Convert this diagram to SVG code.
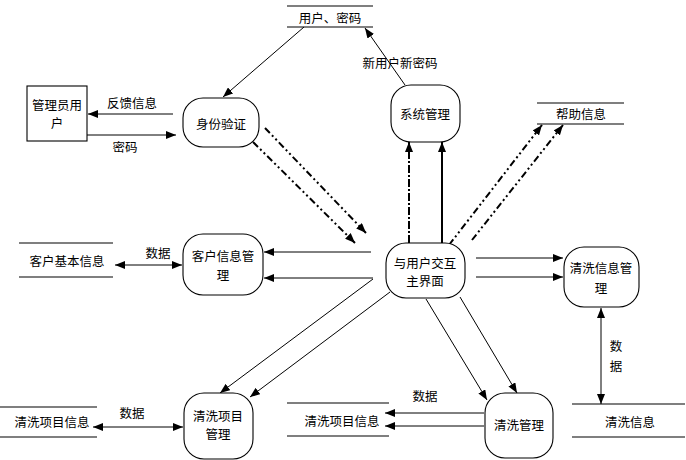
<svg xmlns="http://www.w3.org/2000/svg" width="686" height="460" viewBox="0 0 686 460">
<style>
text{font-family:"Noto Sans CJK SC","Liberation Sans",sans-serif;font-size:12.5px;fill:#000;text-anchor:middle;dominant-baseline:central}
.n{fill:#fff;stroke:#000;stroke-width:1.1}
.s{stroke:#000;stroke-width:1.1;fill:none}
.c{stroke:#000;stroke-width:1;fill:none;marker-end:url(#a)}
.d{marker-start:url(#a)}
.dd{stroke:#000;stroke-width:2;fill:none;stroke-dasharray:7 3 2 3 2 3;marker-end:url(#a)}
</style>
<defs>
<marker id="a" viewBox="0 0 10 8" refX="10" refY="4" markerWidth="10" markerHeight="8" markerUnits="userSpaceOnUse" orient="auto-start-reverse">
<path d="M0,0 L10,4 L0,8 z" fill="#000"/>
</marker>
</defs>
<rect width="686" height="460" fill="#fff"/>
<g id="connectors">
<line class="c" x1="304" y1="27" x2="223" y2="97"/>
<line class="c" x1="405" y1="85" x2="365" y2="28"/>
<line class="c" x1="173" y1="114" x2="88" y2="114"/>
<line class="c" x1="87" y1="135" x2="176" y2="135"/>
<line class="dd" x1="265" y1="128" x2="366" y2="233"/>
<line class="dd" x1="253" y1="142" x2="355" y2="243"/>
<line class="dd" x1="449" y1="245" x2="542" y2="125"/>
<line class="dd" x1="472" y1="240" x2="563" y2="125"/>
<line x1="409" y1="243" x2="409" y2="142" stroke="#000" stroke-width="2" stroke-dasharray="8 2 2 2" marker-end="url(#a)"/>
<line x1="442" y1="243" x2="442" y2="142" stroke="#000" stroke-width="2" marker-end="url(#a)"/>
<line class="c" x1="371" y1="252" x2="264" y2="252"/>
<line class="c" x1="373" y1="278" x2="264" y2="278"/>
<line class="c d" x1="115" y1="265" x2="182" y2="265"/>
<line class="c" x1="476" y1="258" x2="563" y2="258"/>
<line class="c" x1="476" y1="277" x2="563" y2="277"/>
<line class="c d" x1="601" y1="308" x2="601" y2="404"/>
<line class="c" x1="426" y1="299" x2="487" y2="400"/>
<line class="c" x1="460" y1="297" x2="517" y2="393"/>
<line class="c" x1="484" y1="413" x2="385" y2="413"/>
<line class="c" x1="484" y1="426" x2="385" y2="426"/>
<line class="c" x1="373" y1="279" x2="220" y2="393"/>
<line class="c" x1="390" y1="292" x2="250" y2="397"/>
<line class="c d" x1="93" y1="427" x2="183" y2="427"/>
</g>
<g id="lbl">
<text x="400" y="62">新用户新密码</text>
<text x="132" y="102">反馈信息</text>
<text x="125" y="146">密码</text>
<text x="158" y="252">数据</text>
<text x="616" y="345">数</text>
<text x="616" y="365">据</text>
<text x="425" y="395">数据</text>
<text x="132" y="412">数据</text>
</g>
<g id="admin">
<rect class="n" x="27" y="86" width="60" height="55"/>
<text x="57" y="104">管理员用</text>
<text x="57" y="122">户</text>
</g>
<g id="auth">
<rect class="n" x="183" y="98" width="76" height="49" rx="20"/>
<text x="221" y="123">身份验证</text>
</g>
<g id="sys">
<rect class="n" x="391" y="85" width="69" height="57" rx="20"/>
<text x="425" y="113">系统管理</text>
</g>
<g id="main">
<rect class="n" x="386" y="243" width="79" height="55" rx="20"/>
<text x="425" y="262">与用户交互</text>
<text x="425" y="280">主界面</text>
</g>
<g id="cust">
<rect class="n" x="183" y="234" width="80" height="61" rx="20"/>
<text x="223" y="255">客户信息管</text>
<text x="223" y="274">理</text>
</g>
<g id="washinfo">
<rect class="n" x="564" y="247" width="75" height="60" rx="20"/>
<text x="601" y="267">清洗信息管</text>
<text x="601" y="287">理</text>
</g>
<g id="wash">
<rect class="n" x="485" y="393" width="68" height="65" rx="20"/>
<text x="519" y="424">清洗管理</text>
</g>
<g id="proj">
<rect class="n" x="184" y="393" width="69" height="66" rx="20"/>
<text x="218" y="415">清洗项目</text>
<text x="218" y="433">管理</text>
</g>
<g id="store-user">
<line class="s" x1="287" y1="6" x2="373" y2="6"/>
<line class="s" x1="287" y1="27" x2="373" y2="27"/>
<text x="330" y="17">用户、密码</text>
</g>
<g id="store-help">
<line class="s" x1="537" y1="103" x2="624" y2="103"/>
<line class="s" x1="537" y1="124" x2="624" y2="124"/>
<text x="581" y="113">帮助信息</text>
</g>
<g id="store-cust">
<line class="s" x1="19" y1="243" x2="113" y2="243"/>
<line class="s" x1="19" y1="277" x2="113" y2="277"/>
<text x="67" y="260">客户基本信息</text>
</g>
<g id="store-washinfo">
<line class="s" x1="572" y1="404" x2="685" y2="404"/>
<line class="s" x1="572" y1="437" x2="685" y2="437"/>
<text x="630" y="421">清洗信息</text>
</g>
<g id="store-proj2">
<line class="s" x1="287" y1="403" x2="389" y2="403"/>
<line class="s" x1="287" y1="436" x2="389" y2="436"/>
<text x="342" y="420">清洗项目信息</text>
</g>
<g id="store-proj1">
<line class="s" x1="0" y1="407" x2="97" y2="407"/>
<line class="s" x1="0" y1="437" x2="97" y2="437"/>
<text x="52" y="421">清洗项目信息</text>
</g>
</svg>
